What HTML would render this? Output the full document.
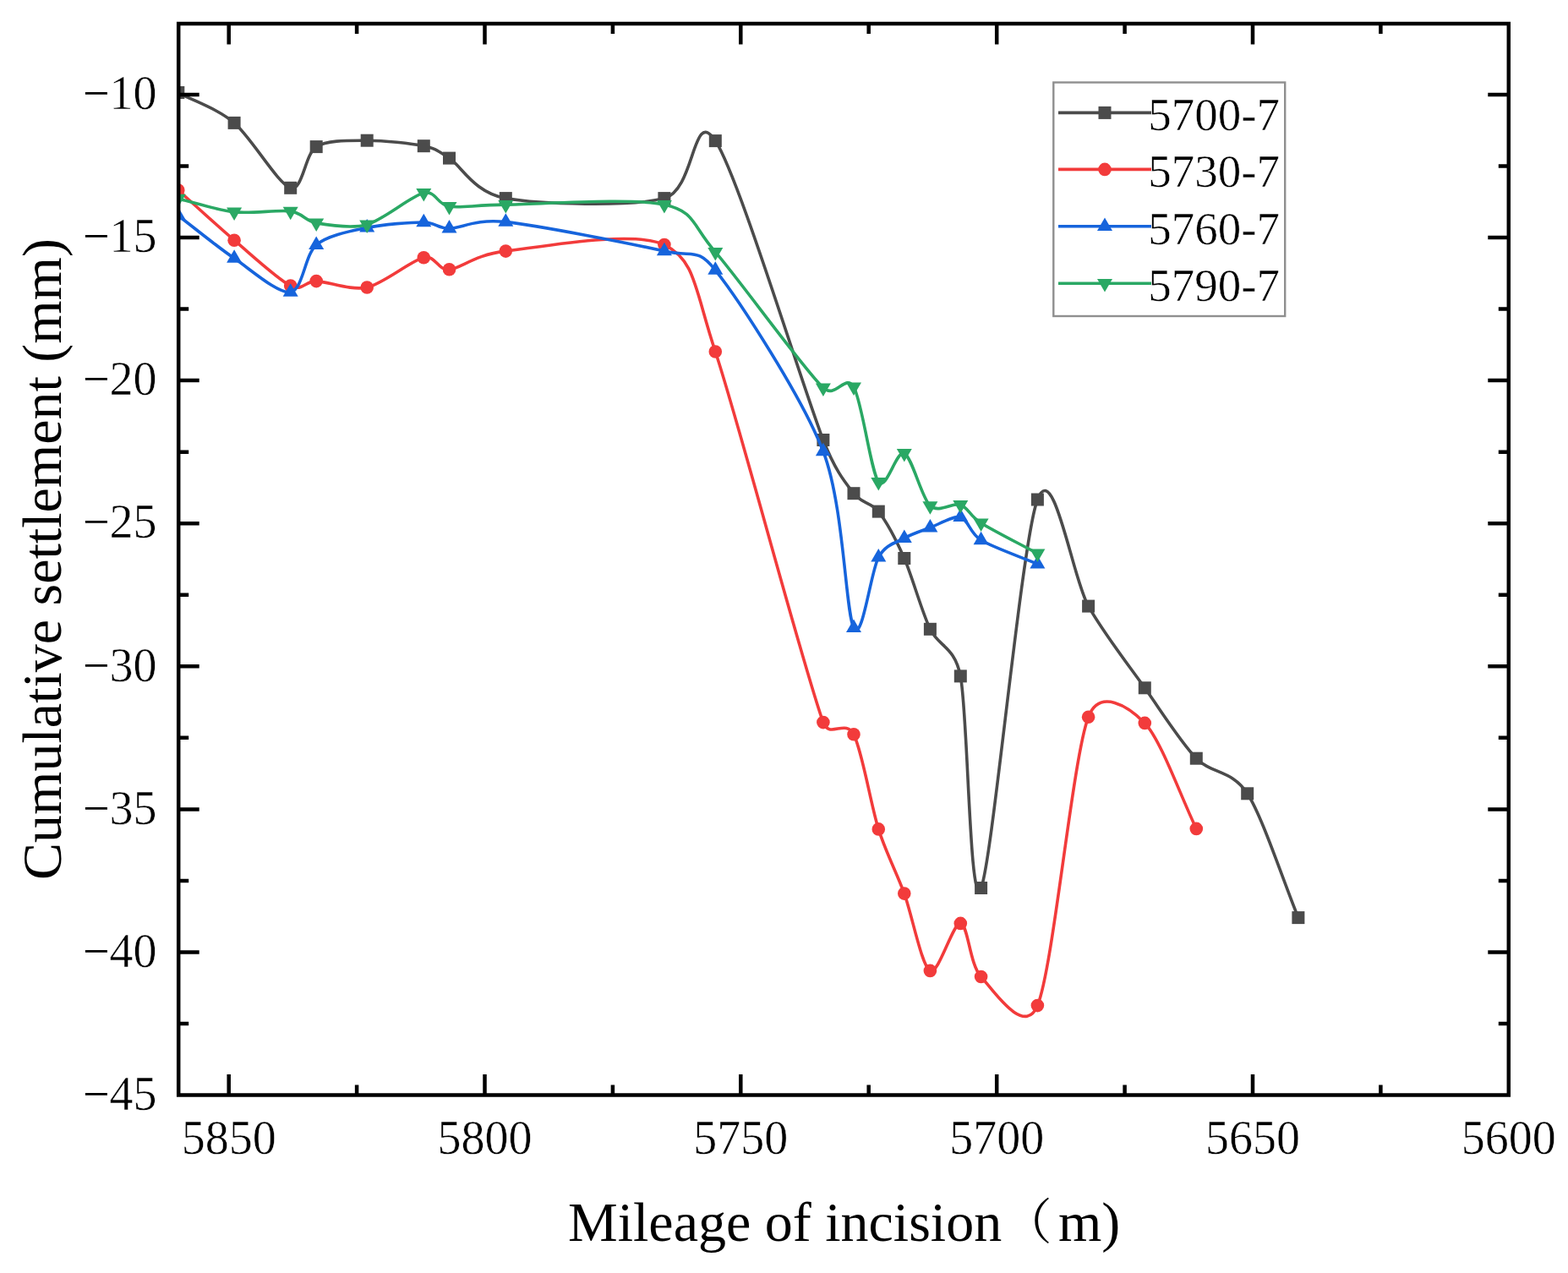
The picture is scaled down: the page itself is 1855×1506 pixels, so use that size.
<!DOCTYPE html>
<html><head><meta charset="utf-8"><title>Cumulative settlement</title>
<style>html,body{margin:0;padding:0;background:#fff;}svg{display:block;}text{stroke:#fff;stroke-width:0.5px;stroke-linejoin:round;}text.t{stroke:none;}</style></head>
<body>
<svg width="1855" height="1506" viewBox="0 0 1855 1506">
<rect width="1855" height="1506" fill="#fff"/>
<defs><clipPath id="pc"><rect x="211.2" y="28.0" width="1573.6" height="1267.5"/></clipPath></defs>
<g clip-path="url(#pc)">
<path d="M210.80,109.50 C230.69,120.27 257.17,128.48 277.10,145.40 C297.04,162.32 329.13,218.07 343.70,222.30 C358.26,226.53 360.62,182.01 374.20,173.60 C387.77,165.19 415.13,166.33 434.20,166.20 C453.26,166.06 486.70,169.56 501.30,172.70 C515.89,175.83 516.95,177.81 531.50,187.10 C546.05,196.38 560.14,227.47 598.30,234.60 C636.46,241.72 748.70,244.80 785.90,234.60 C823.10,224.40 818.82,124.80 846.30,166.60 C874.50,209.48 949.35,457.94 973.90,520.50 C988.52,557.76 1000.19,571.01 1010.00,583.70 C1019.81,596.39 1030.33,593.58 1039.30,605.10 C1048.27,616.62 1060.63,639.62 1069.80,660.50 C1078.96,681.38 1090.43,723.39 1100.40,744.30 C1110.38,765.21 1129.28,764.18 1136.30,799.90 C1145.33,845.83 1146.93,1081.84 1160.60,1050.50 C1174.26,1019.16 1208.35,641.01 1227.40,591.00 C1246.45,540.99 1268.56,683.68 1287.60,717.10 C1306.63,750.52 1335.14,786.78 1354.30,813.80 C1373.45,840.81 1397.09,878.45 1415.30,897.20 C1433.51,915.95 1457.61,910.54 1475.70,938.80 C1493.79,967.06 1517.84,1041.56 1535.90,1085.60" fill="none" stroke="#4b4b4b" stroke-width="3.6" stroke-linejoin="round"/>
<rect x="203.3" y="102.0" width="15" height="15" fill="#4b4b4b"/>
<rect x="269.6" y="137.9" width="15" height="15" fill="#4b4b4b"/>
<rect x="336.2" y="214.8" width="15" height="15" fill="#4b4b4b"/>
<rect x="366.7" y="166.1" width="15" height="15" fill="#4b4b4b"/>
<rect x="426.7" y="158.7" width="15" height="15" fill="#4b4b4b"/>
<rect x="493.8" y="165.2" width="15" height="15" fill="#4b4b4b"/>
<rect x="524.0" y="179.6" width="15" height="15" fill="#4b4b4b"/>
<rect x="590.8" y="227.1" width="15" height="15" fill="#4b4b4b"/>
<rect x="778.4" y="227.1" width="15" height="15" fill="#4b4b4b"/>
<rect x="838.8" y="159.1" width="15" height="15" fill="#4b4b4b"/>
<rect x="966.4" y="513.0" width="15" height="15" fill="#4b4b4b"/>
<rect x="1002.5" y="576.2" width="15" height="15" fill="#4b4b4b"/>
<rect x="1031.8" y="597.6" width="15" height="15" fill="#4b4b4b"/>
<rect x="1062.3" y="653.0" width="15" height="15" fill="#4b4b4b"/>
<rect x="1092.9" y="736.8" width="15" height="15" fill="#4b4b4b"/>
<rect x="1128.8" y="792.4" width="15" height="15" fill="#4b4b4b"/>
<rect x="1153.1" y="1043.0" width="15" height="15" fill="#4b4b4b"/>
<rect x="1219.9" y="583.5" width="15" height="15" fill="#4b4b4b"/>
<rect x="1280.1" y="709.6" width="15" height="15" fill="#4b4b4b"/>
<rect x="1346.8" y="806.3" width="15" height="15" fill="#4b4b4b"/>
<rect x="1407.8" y="889.7" width="15" height="15" fill="#4b4b4b"/>
<rect x="1468.2" y="931.3" width="15" height="15" fill="#4b4b4b"/>
<rect x="1528.4" y="1078.1" width="15" height="15" fill="#4b4b4b"/>
<path d="M210.80,225.00 C230.69,242.76 257.17,267.24 277.10,284.20 C297.04,301.16 329.13,330.84 343.70,338.10 C358.26,345.36 360.62,332.32 374.20,332.60 C387.77,332.88 415.13,344.19 434.20,340.00 C453.26,335.81 486.70,307.89 501.30,304.70 C515.89,301.50 516.95,319.84 531.50,318.70 C546.05,317.56 560.14,301.47 598.30,297.10 C636.46,292.74 748.70,271.77 785.90,289.60 C823.10,307.44 821.97,342.89 846.30,416.00 C874.50,500.75 949.35,786.68 973.90,854.60 C981.15,874.66 1000.19,849.86 1010.00,868.80 C1019.81,887.74 1030.33,952.65 1039.30,980.90 C1048.27,1009.14 1060.63,1031.97 1069.80,1057.10 C1078.96,1082.22 1090.43,1143.11 1100.40,1148.40 C1110.38,1153.70 1127.27,1091.34 1136.30,1092.40 C1145.33,1093.47 1146.93,1140.92 1160.60,1155.50 C1174.26,1170.08 1211.64,1227.72 1227.40,1189.60 C1246.45,1143.50 1268.56,898.33 1287.60,848.20 C1300.70,813.70 1335.14,835.57 1354.30,855.40 C1373.45,875.23 1397.00,942.90 1415.30,980.40" fill="none" stroke="#f23b3b" stroke-width="3.6" stroke-linejoin="round"/>
<circle cx="210.8" cy="225.0" r="7.8" fill="#f23b3b"/>
<circle cx="277.1" cy="284.2" r="7.8" fill="#f23b3b"/>
<circle cx="343.7" cy="338.1" r="7.8" fill="#f23b3b"/>
<circle cx="374.2" cy="332.6" r="7.8" fill="#f23b3b"/>
<circle cx="434.2" cy="340.0" r="7.8" fill="#f23b3b"/>
<circle cx="501.3" cy="304.7" r="7.8" fill="#f23b3b"/>
<circle cx="531.5" cy="318.7" r="7.8" fill="#f23b3b"/>
<circle cx="598.3" cy="297.1" r="7.8" fill="#f23b3b"/>
<circle cx="785.9" cy="289.6" r="7.8" fill="#f23b3b"/>
<circle cx="846.3" cy="416.0" r="7.8" fill="#f23b3b"/>
<circle cx="973.9" cy="854.6" r="7.8" fill="#f23b3b"/>
<circle cx="1010.0" cy="868.8" r="7.8" fill="#f23b3b"/>
<circle cx="1039.3" cy="980.9" r="7.8" fill="#f23b3b"/>
<circle cx="1069.8" cy="1057.1" r="7.8" fill="#f23b3b"/>
<circle cx="1100.4" cy="1148.4" r="7.8" fill="#f23b3b"/>
<circle cx="1136.3" cy="1092.4" r="7.8" fill="#f23b3b"/>
<circle cx="1160.6" cy="1155.5" r="7.8" fill="#f23b3b"/>
<circle cx="1227.4" cy="1189.6" r="7.8" fill="#f23b3b"/>
<circle cx="1287.6" cy="848.2" r="7.8" fill="#f23b3b"/>
<circle cx="1354.3" cy="855.4" r="7.8" fill="#f23b3b"/>
<circle cx="1415.3" cy="980.4" r="7.8" fill="#f23b3b"/>
<path d="M210.80,255.00 C230.69,270.18 257.17,292.01 277.10,305.60 C297.04,319.19 329.13,347.97 343.70,345.60 C358.26,343.23 360.62,301.23 374.20,289.80 C387.77,278.37 415.13,273.42 434.20,269.40 C453.26,265.38 486.70,262.88 501.30,263.00 C515.89,263.12 516.95,270.26 531.50,270.20 C546.05,270.14 561.53,258.71 598.30,262.60 C636.46,266.64 748.70,288.55 785.90,297.10 C820.45,305.04 824.26,291.83 846.30,319.60 C874.50,355.13 949.35,470.50 973.90,534.00 C998.45,597.50 1000.19,724.11 1010.00,742.90 C1019.81,761.69 1030.33,675.21 1039.30,659.30 C1048.27,643.38 1060.63,642.05 1069.80,636.80 C1078.96,631.55 1090.43,628.03 1100.40,624.30 C1110.38,620.56 1127.27,609.69 1136.30,611.90 C1145.33,614.11 1146.93,630.71 1160.60,639.00 C1174.26,647.29 1207.36,658.74 1227.40,667.20" fill="none" stroke="#1664dc" stroke-width="3.6" stroke-linejoin="round"/>
<polygon points="201.8,260.2 219.8,260.2 210.8,244.7" fill="#1664dc"/>
<polygon points="268.1,310.8 286.1,310.8 277.1,295.3" fill="#1664dc"/>
<polygon points="334.7,350.8 352.7,350.8 343.7,335.3" fill="#1664dc"/>
<polygon points="365.2,295.0 383.2,295.0 374.2,279.5" fill="#1664dc"/>
<polygon points="425.2,274.6 443.2,274.6 434.2,259.1" fill="#1664dc"/>
<polygon points="492.3,268.2 510.3,268.2 501.3,252.7" fill="#1664dc"/>
<polygon points="522.5,275.4 540.5,275.4 531.5,259.9" fill="#1664dc"/>
<polygon points="589.3,267.8 607.3,267.8 598.3,252.3" fill="#1664dc"/>
<polygon points="776.9,302.3 794.9,302.3 785.9,286.8" fill="#1664dc"/>
<polygon points="837.3,324.8 855.3,324.8 846.3,309.3" fill="#1664dc"/>
<polygon points="964.9,539.2 982.9,539.2 973.9,523.7" fill="#1664dc"/>
<polygon points="1001.0,748.1 1019.0,748.1 1010.0,732.6" fill="#1664dc"/>
<polygon points="1030.3,664.5 1048.3,664.5 1039.3,649.0" fill="#1664dc"/>
<polygon points="1060.8,642.0 1078.8,642.0 1069.8,626.5" fill="#1664dc"/>
<polygon points="1091.4,629.5 1109.4,629.5 1100.4,614.0" fill="#1664dc"/>
<polygon points="1127.3,617.1 1145.3,617.1 1136.3,601.6" fill="#1664dc"/>
<polygon points="1151.6,644.2 1169.6,644.2 1160.6,628.7" fill="#1664dc"/>
<polygon points="1218.4,672.4 1236.4,672.4 1227.4,656.9" fill="#1664dc"/>
<path d="M210.80,235.00 C230.69,239.74 257.17,248.56 277.10,250.80 C297.04,253.04 329.13,247.95 343.70,249.90 C358.26,251.85 360.62,261.43 374.20,263.80 C387.77,266.17 415.13,271.02 434.20,265.70 C453.26,260.38 486.70,231.51 501.30,228.30 C515.89,225.09 516.95,242.23 531.50,244.30 C546.05,246.37 561.54,242.42 598.30,242.10 C636.46,241.77 748.70,233.70 785.90,242.10 C823.10,250.50 818.10,265.60 846.30,298.10 C874.50,330.61 949.35,434.85 973.90,458.80 C988.12,472.67 1000.19,441.11 1010.00,457.80 C1019.81,474.50 1030.33,558.33 1039.30,570.10 C1048.27,581.88 1060.63,532.05 1069.80,536.30 C1078.96,540.54 1090.43,589.26 1100.40,598.40 C1110.38,607.53 1127.27,594.16 1136.30,597.20 C1145.33,600.25 1146.93,610.06 1160.60,618.70 C1174.26,627.34 1207.36,643.97 1227.40,654.80" fill="none" stroke="#2aa864" stroke-width="3.6" stroke-linejoin="round"/>
<polygon points="201.8,229.8 219.8,229.8 210.8,245.3" fill="#2aa864"/>
<polygon points="268.1,245.6 286.1,245.6 277.1,261.1" fill="#2aa864"/>
<polygon points="334.7,244.7 352.7,244.7 343.7,260.2" fill="#2aa864"/>
<polygon points="365.2,258.6 383.2,258.6 374.2,274.1" fill="#2aa864"/>
<polygon points="425.2,260.5 443.2,260.5 434.2,276.0" fill="#2aa864"/>
<polygon points="492.3,223.1 510.3,223.1 501.3,238.6" fill="#2aa864"/>
<polygon points="522.5,239.1 540.5,239.1 531.5,254.6" fill="#2aa864"/>
<polygon points="589.3,236.9 607.3,236.9 598.3,252.4" fill="#2aa864"/>
<polygon points="776.9,236.9 794.9,236.9 785.9,252.4" fill="#2aa864"/>
<polygon points="837.3,292.9 855.3,292.9 846.3,308.4" fill="#2aa864"/>
<polygon points="964.9,453.6 982.9,453.6 973.9,469.1" fill="#2aa864"/>
<polygon points="1001.0,452.6 1019.0,452.6 1010.0,468.1" fill="#2aa864"/>
<polygon points="1030.3,564.9 1048.3,564.9 1039.3,580.4" fill="#2aa864"/>
<polygon points="1060.8,531.1 1078.8,531.1 1069.8,546.6" fill="#2aa864"/>
<polygon points="1091.4,593.2 1109.4,593.2 1100.4,608.7" fill="#2aa864"/>
<polygon points="1127.3,592.0 1145.3,592.0 1136.3,607.5" fill="#2aa864"/>
<polygon points="1151.6,613.5 1169.6,613.5 1160.6,629.0" fill="#2aa864"/>
<polygon points="1218.4,649.6 1236.4,649.6 1227.4,665.1" fill="#2aa864"/>
</g>
<g fill="none" stroke="#000" stroke-width="4.5">
<rect x="211.2" y="28.0" width="1573.6" height="1267.5"/>
<path d="M1633.4,1295.5V1283.5M1633.4,28.0V40.0M1482.0,1295.5V1271.0M1482.0,28.0V52.5M1330.6,1295.5V1283.5M1330.6,28.0V40.0M1179.2,1295.5V1271.0M1179.2,28.0V52.5M1027.7,1295.5V1283.5M1027.7,28.0V40.0M876.3,1295.5V1271.0M876.3,28.0V52.5M724.9,1295.5V1283.5M724.9,28.0V40.0M573.5,1295.5V1271.0M573.5,28.0V52.5M422.1,1295.5V1283.5M422.1,28.0V40.0M270.7,1295.5V1271.0M270.7,28.0V52.5M211.2,1211.0H223.2M1784.8,1211.0H1772.8M211.2,1126.4H235.7M1784.8,1126.4H1760.3M211.2,1041.9H223.2M1784.8,1041.9H1772.8M211.2,957.4H235.7M1784.8,957.4H1760.3M211.2,872.8H223.2M1784.8,872.8H1772.8M211.2,788.3H235.7M1784.8,788.3H1760.3M211.2,703.7H223.2M1784.8,703.7H1772.8M211.2,619.2H235.7M1784.8,619.2H1760.3M211.2,534.7H223.2M1784.8,534.7H1772.8M211.2,450.1H235.7M1784.8,450.1H1760.3M211.2,365.6H223.2M1784.8,365.6H1772.8M211.2,281.1H235.7M1784.8,281.1H1760.3M211.2,196.5H223.2M1784.8,196.5H1772.8M211.2,112.0H235.7M1784.8,112.0H1760.3"/>
</g>
<g font-family="'Liberation Serif', serif" font-size="56" fill="#000">
<text x="1784.8" y="1364.5" text-anchor="middle">5600</text>
<text x="1482.0" y="1364.5" text-anchor="middle">5650</text>
<text x="1179.2" y="1364.5" text-anchor="middle">5700</text>
<text x="876.3" y="1364.5" text-anchor="middle">5750</text>
<text x="573.5" y="1364.5" text-anchor="middle">5800</text>
<text x="270.7" y="1364.5" text-anchor="middle">5850</text>
<text x="185.5" y="1312.7" text-anchor="end"><tspan style="stroke:none">−</tspan>45</text>
<text x="185.5" y="1143.6" text-anchor="end"><tspan style="stroke:none">−</tspan>40</text>
<text x="185.5" y="974.6" text-anchor="end"><tspan style="stroke:none">−</tspan>35</text>
<text x="185.5" y="805.5" text-anchor="end"><tspan style="stroke:none">−</tspan>30</text>
<text x="185.5" y="636.4" text-anchor="end"><tspan style="stroke:none">−</tspan>25</text>
<text x="185.5" y="467.3" text-anchor="end"><tspan style="stroke:none">−</tspan>20</text>
<text x="185.5" y="298.3" text-anchor="end"><tspan style="stroke:none">−</tspan>15</text>
<text x="185.5" y="129.2" text-anchor="end"><tspan style="stroke:none">−</tspan>10</text>
</g>
<g>
<rect x="1246.3" y="97.5" width="273.9" height="276.5" fill="#fff" stroke="#8f8f8f" stroke-width="2.4"/>
<g font-family="'Liberation Serif', serif" font-size="55" fill="#000">
<line x1="1252" y1="133.4" x2="1362" y2="133.4" stroke="#4b4b4b" stroke-width="3.6"/>
<rect x="1299.5" y="125.9" width="15" height="15" fill="#4b4b4b"/>
<text x="1358.3" y="154.2">5700-7</text>
<line x1="1252" y1="200.4" x2="1362" y2="200.4" stroke="#f23b3b" stroke-width="3.6"/>
<circle cx="1307.0" cy="200.4" r="7.8" fill="#f23b3b"/>
<text x="1358.3" y="221.2">5730-7</text>
<line x1="1252" y1="267.7" x2="1362" y2="267.7" stroke="#1664dc" stroke-width="3.6"/>
<polygon points="1298.0,272.9 1316.0,272.9 1307.0,257.4" fill="#1664dc"/>
<text x="1358.3" y="288.5">5760-7</text>
<line x1="1252" y1="335.2" x2="1362" y2="335.2" stroke="#2aa864" stroke-width="3.6"/>
<polygon points="1298.0,330.0 1316.0,330.0 1307.0,345.5" fill="#2aa864"/>
<text x="1358.3" y="356.0">5790-7</text>
</g>
</g>
<text class="t" x="672.0" y="1467.5" font-family="'Liberation Serif', 'Noto Serif CJK SC', serif" font-size="66" fill="#000">Mileage of incision<tspan dx="1.3" dy="-1.5" font-size="58" font-family="'Noto Serif CJK SC', serif">（</tspan><tspan dx="7.4" dy="1.5">m)</tspan></text>
<text class="t" transform="translate(71.5,661.5) rotate(-90)" x="0" y="0" text-anchor="middle" font-family="'Liberation Serif', serif" font-size="66" fill="#000">Cumulative settlement (mm)</text>
</svg>
</body></html>
